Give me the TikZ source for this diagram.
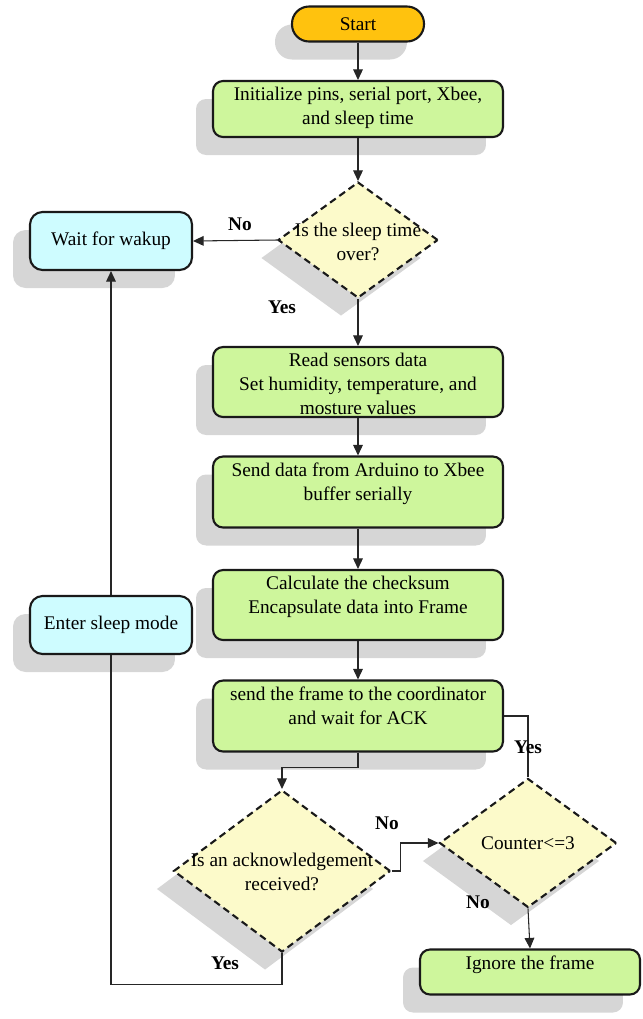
\documentclass[tikz,border=0pt]{standalone}
\usepackage{fontspec}
\setmainfont{Liberation Serif}
\usetikzlibrary{arrows.meta,shapes.geometric,shadows}
\definecolor{startorange}{RGB}{255,194,14}
\definecolor{procgreen}{RGB}{206,246,156}
\definecolor{decyellow}{RGB}{252,250,202}
\definecolor{waitcyan}{RGB}{206,252,255}
\newcommand{\boxtext}[3][5.6cm]{\parbox[c][#2][t]{#1}{\centering #3}}
\tikzset{
	shade box/.style={drop shadow={shadow xshift=-0.34cm, shadow yshift=-0.36cm, fill=black!16, opacity=1}},
	terminal/.style={draw=black!90, line width=1.2pt, rounded corners=0.34cm, fill=startorange, shade box, minimum width=2.64cm, minimum height=0.7cm},
	process/.style={draw=black!90, line width=1.2pt, rounded corners=0.2cm, fill=procgreen, shade box, inner xsep=0.1cm, inner ysep=0.12cm, minimum width=5.8cm},
	waitbox/.style={draw=black!90, line width=1.2pt, rounded corners=0.25cm, fill=waitcyan, shade box, minimum width=3.24cm, minimum height=1.16cm},
	decision/.style={diamond, draw=black!90, dash pattern=on 4pt off 2.5pt, line width=1.2pt, fill=decyellow, shade box, inner sep=0pt},
	flow/.style={draw=black!85, line width=0.6pt, -{Triangle[length=6pt,width=5.5pt]}},
	link/.style={draw=black!85, line width=0.6pt},
	answer/.style={font=\fontsize{11}{13}\selectfont\bfseries},
}

\begin{document}
\begin{tikzpicture}[x=0.02cm, y=-0.02cm, font=\fontsize{11}{13.6}\selectfont]
		%%%%% START %%%%%
		\useasboundingbox (0,0) rectangle (643,1019);

		\node[terminal] (start) at (358,24) {Start};
		\node[process] (init) at (358,109) {\boxtext{0.88cm}{Initialize pins, serial port, Xbee,\\and sleep time}};
		\node[decision, minimum width=3.2cm, minimum height=2.32cm] (sleepq) at (358,240) {};
		\node[align=center] (sleepqtext) at (358,242) {Is the sleep time\\over?};
		\node[waitbox] (wait) at (111,241) {Wait for wakup};

		\node[process] (read) at (358,382) {\boxtext{1.16cm}{Read sensors data\\Set humidity, temperature, and\\mosture values}};
		\node[process] (send) at (358,492) {\boxtext{1.18cm}{Send data from Arduino to Xbee\\buffer serially}};
		\node[process] (calc) at (358,605) {\boxtext{1.16cm}{Calculate the checksum\\Encapsulate data into Frame}};
		\node[process] (frame) at (358,716) {\boxtext{1.18cm}{send the frame to the coordinator\\and wait for ACK}};
		\node[waitbox] (sleep) at (111,625) {Enter sleep mode};

		\node[decision, minimum width=4.34cm, minimum height=3.24cm] (ack) at (282,871) {};
		\node[align=center] (acktext) at (282,872) {Is an acknowledgement\\received?};
		\node[decision, minimum width=3.54cm, minimum height=2.58cm] (counter) at (528,843) {};
		\node (countertext) at (528,843) {Counter<=3};
		\node[process, minimum width=4.4cm] (ignore) at (530,972) {\boxtext[4.2cm]{0.66cm}{Ignore the frame}};

		% connectors
		\draw[flow] (start) -- (init);
		\draw[flow] (init) -- (sleepq);
		\draw[flow] (sleepq.west) -- (wait.east);
		\draw[flow] (sleepq.south) -- (read.north);
		\draw[flow] (read) -- (send);
		\draw[flow] (send) -- (calc);
		\draw[flow] (calc) -- (frame);
		\draw[flow] (frame.south) -- ++(0,15) -| (ack.north);
		\draw[flow] (ack.east) -- ++(9,0) |- (counter.west);
		\draw[link] (counter.north) |- (frame.east);
		\draw[flow] (counter.south) -- (ignore.north);
		\draw[link] (ack.south) -- ++(0,31) -| (sleep.south);
		\draw[flow] (sleep.north) -- (wait.south);

		% answers
		\node[answer] (nowake) at (240,224) {No};
		\node[answer] (yesread) at (282,307) {Yes};
		\node[answer] (nocount) at (387,823) {No};
		\node[answer] (yesresend) at (528,747) {Yes};
		\node[answer] (noignore) at (478,902) {No};
		\node[answer] (yessleep) at (225,963) {Yes};
		%%%%% END %%%%%
	\end{tikzpicture}
\end{document}
